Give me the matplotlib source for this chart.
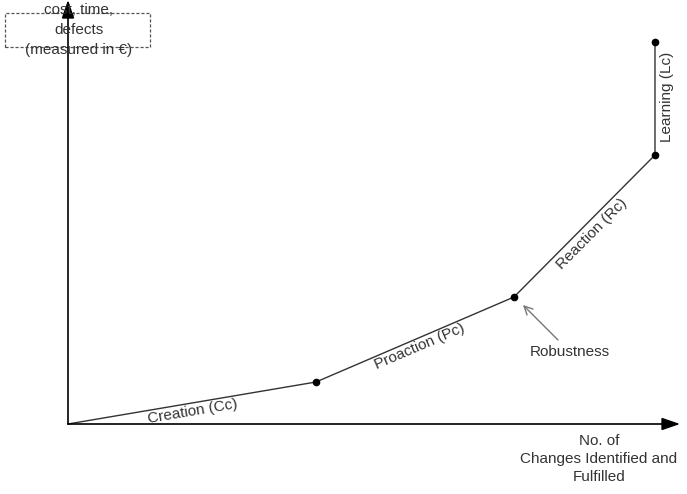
import matplotlib
matplotlib.use("Agg")
import matplotlib.pyplot as plt
from matplotlib.patches import Rectangle
import numpy as np

plt.rcParams['font.family'] = ['Liberation Sans', 'DejaVu Sans']

# Curve points (abstract units, origin at axis crossing)
px = [0, 248, 446, 587, 587]
py = [0, 42, 127, 269, 382]
phase_labels = ["Creation (Cc)", "Proaction (Pc)", "Reaction (Rc)", "Learning (Lc)"]
y_label = "cost, time,\ndefects\n(measured in €)"
x_label = "No. of\nChanges Identified and\nFulfilled"
annot = "Robustness"

fig = plt.figure(figsize=(6.87, 4.94), dpi=100)
ax = fig.add_axes([0, 0, 1, 1])
ax.set_xlim(-68, 619)
ax.set_ylim(-70, 424)
ax.axis('off')

# axes arrows
arrow_kw = dict(arrowstyle="-|>,head_length=1.1,head_width=0.38", color="black", lw=1.2,
                shrinkA=0, shrinkB=0)
ax.annotate("", xy=(0, 424), xytext=(0, 0), arrowprops=arrow_kw)
ax.annotate("", xy=(612, 0), xytext=(0, 0), arrowprops=arrow_kw)

# curve
ax.plot(px, py, color="#333333", lw=1.0)
ax.plot(px[1:], py[1:], 'o', color="black", ms=4.5)

fs = 11
tc = "#333333"
def seg_angle(i):
    p1 = ax.transData.transform((px[i], py[i]))
    p2 = ax.transData.transform((px[i + 1], py[i + 1]))
    return np.degrees(np.arctan2(p2[1] - p1[1], p2[0] - p1[0]))

ax.text(125, 12, phase_labels[0], rotation=seg_angle(0), ha='center', va='center', fontsize=fs, color=tc,
        rotation_mode='anchor')
ax.text(352, 77, phase_labels[1], rotation=seg_angle(1), ha='center', va='center', fontsize=fs, color=tc,
        rotation_mode='anchor')
ax.text(524, 190, phase_labels[2], rotation=seg_angle(2), ha='center', va='center', fontsize=fs, color=tc,
        rotation_mode='anchor')
ax.text(599, 327, phase_labels[3], rotation=90, ha='center', va='center', fontsize=fs, color=tc,
        rotation_mode='anchor')

# Robustness annotation
ax.annotate("", xy=(455, 119), xytext=(490, 84),
            arrowprops=dict(arrowstyle="->,head_length=0.6,head_width=0.3", color="#777777", lw=1.0,
                            shrinkA=0, shrinkB=0))
ax.text(502, 72, annot, ha='center', va='center', fontsize=fs, color=tc)

# y label with dashed box
ax.add_patch(Rectangle((-63, 377), 145, 34, fill=False, ls=(0, (2.5, 1.5)), lw=0.9, edgecolor="#555555"))
ax.text(11, 394, y_label, ha='center', va='center', fontsize=fs, color=tc, linespacing=1.55)

# x label
ax.text(531, -35, x_label, ha='center', va='center', fontsize=fs, color=tc, linespacing=1.38)

fig.savefig("out.png", dpi=100)
